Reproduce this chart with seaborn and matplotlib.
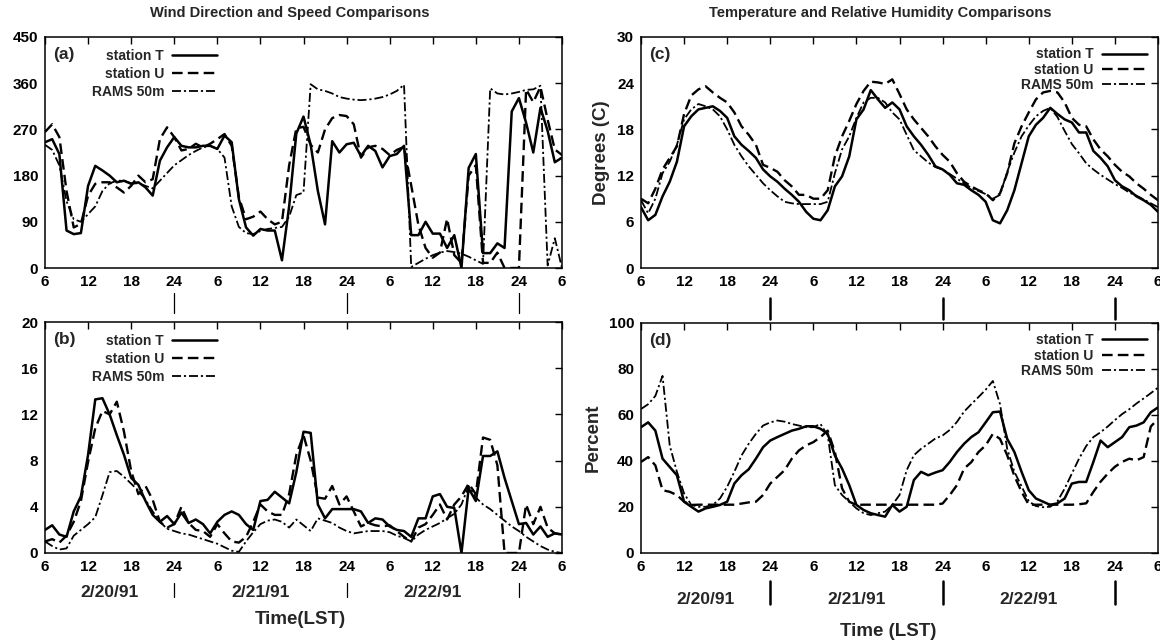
import matplotlib
matplotlib.use("Agg")
import matplotlib.pyplot as plt
import matplotlib.transforms as mtransforms
import seaborn as sns
import pandas as pd

# --- datos: hora local desde 2/20/91 00h (6 .. 78) ---
hours = list(range(6, 79))
tick_hours = [6, 12, 18, 24, 30, 36, 42, 48, 54, 60, 66, 72, 78]
tick_labels = ['6', '12', '18', '24', '6', '12', '18', '24', '6', '12', '18', '24', '6']
day_breaks = [24, 48, 72]
day_names = ['2/20/91', '2/21/91', '2/22/91']
day_centers = [15, 36, 60]
series_names = ['station T', 'station U', 'RAMS 50m']

# (a) wind direction (deg)
dir_T = [245, 251, 222, 73, 66, 68, 160, 199, 190, 180,
         167, 170, 164, 167, 157, 141, 209, 235, 255, 238,
         235, 235, 238, 238, 232, 258, 245, 134, 79, 63,
         76, 73, 73, 15, 120, 262, 295, 240, 150, 85,
         247, 225, 241, 244, 218, 238, 228, 196, 218, 222,
         238, 64, 64, 90, 67, 67, 39, 64, 0, 195,
         222, 29, 29, 48, 39, 305, 331, 283, 225, 312,
         267, 206, 215]
dir_U = [265, 280, 255, 150, 79, 86, 141, 164, 167, 167,
         157, 147, 160, 180, 167, 173, 251, 274, 255, 229,
         232, 242, 235, 242, 251, 261, 238, 138, 95, 100,
         110, 95, 85, 90, 200, 272, 275, 240, 225, 270,
         292, 298, 296, 280, 215, 235, 238, 232, 220, 230,
         236, 161, 84, 39, 20, 30, 96, 25, 10, 180,
         200, 10, 10, 30, 0, 0, 0, 348, 323, 353,
         289, 231, 220]
dir_R = [240, 230, 200, 130, 95, 90, 105, 120, 150, 165,
         170, 170, 165, 165, 160, 155, 170, 185, 200, 210,
         220, 228, 235, 238, 232, 215, 120, 80, 68, 66,
         72, 76, 78, 80, 100, 142, 147, 358, 348, 345,
         340, 333, 330, 328, 327, 328, 330, 333, 338, 345,
         357, 2, 10, 18, 25, 30, 33, 31, 28, 22,
         15, 8, 350, 340, 338, 340, 343, 347, 348, 355,
         5, 58, 0]

# (b) wind speed (m/s)
spd_T = [2.0, 2.4, 1.6, 1.4, 3.6, 4.9, 8.5, 13.3, 13.4, 12.0,
         10.2, 8.5, 6.5, 5.9, 4.5, 3.3, 2.7, 3.2, 2.5, 3.5,
         2.6, 2.9, 2.5, 1.7, 2.7, 3.3, 3.6, 3.3, 2.5, 2.0,
         4.5, 4.6, 5.3, 4.8, 4.3, 7.0, 10.5, 10.4, 4.2, 3.0,
         3.8, 3.8, 3.8, 3.8, 3.6, 2.6, 3.0, 2.9, 2.3, 2.0,
         1.9, 1.4, 3.0, 3.0, 4.9, 5.1, 4.0, 3.9, 0.0, 5.6,
         4.5, 8.4, 8.4, 8.8, 6.5, 4.5, 2.5, 2.6, 1.6, 2.3,
         1.4, 1.7, 1.6]
spd_U = [1.0, 1.2, 0.9, 1.5, 2.7, 4.5, 7.9, 10.8, 12.3, 12.0,
         13.1, 10.5, 7.1, 5.1, 5.8, 4.6, 2.7, 2.2, 2.5, 4.0,
         2.6, 2.0, 1.9, 1.4, 2.5, 1.7, 1.0, 0.9, 1.4, 2.7,
         4.2, 3.6, 3.3, 3.3, 5.1, 8.5, 10.2, 8.0, 4.8, 4.7,
         5.8, 4.2, 4.9, 3.6, 2.3, 2.6, 2.4, 2.3, 2.4, 1.9,
         1.4, 1.0, 2.2, 2.5, 3.3, 4.2, 2.9, 4.2, 4.9, 6.0,
         5.1, 10.0, 9.8, 7.6, 0.0, 0.0, 0.0, 4.2, 2.5, 4.0,
         2.2, 1.7, 1.6]
spd_R = [1.0, 0.6, 0.3, 0.4, 1.5, 2.0, 2.5, 3.1, 5.0, 7.0,
         7.1, 6.6, 6.0, 5.4, 4.6, 3.6, 2.7, 2.1, 1.9, 1.7,
         1.6, 1.4, 1.2, 1.0, 0.8, 0.5, 0.2, 0.1, 1.0, 1.8,
         2.5, 2.8, 2.9, 2.7, 2.2, 2.9, 2.4, 1.9, 3.0, 2.8,
         2.6, 2.2, 1.9, 1.7, 1.8, 1.9, 1.9, 1.9, 1.8, 1.5,
         1.3, 1.0, 1.6, 2.0, 2.3, 2.6, 3.0, 3.4, 4.2, 5.8,
         4.8, 4.2, 3.8, 3.3, 2.8, 2.3, 1.9, 1.4, 1.0, 0.6,
         0.3, 0.1, 0.0]

# (c) temperature (C)
tmp_T = [7.9, 6.2, 6.9, 9.3, 11.2, 13.8, 18.4, 19.7, 20.6, 20.8,
         21.0, 20.4, 19.5, 17.1, 16.0, 15.2, 14.3, 12.8, 11.9, 11.2,
         10.3, 9.5, 8.6, 7.3, 6.4, 6.2, 7.5, 10.6, 11.9, 14.5,
         19.3, 20.6, 23.1, 21.9, 20.8, 21.5, 20.6, 18.4, 17.1, 16.0,
         14.7, 13.2, 12.8, 12.1, 11.0, 10.8, 10.1, 9.5, 8.6, 6.2,
         5.8, 7.5, 10.1, 13.6, 17.1, 18.6, 19.5, 20.8, 20.0, 19.3,
         18.9, 17.6, 17.6, 15.2, 14.3, 13.2, 11.4, 10.6, 10.1, 9.3,
         8.8, 8.2, 7.3]
tmp_U = [9.0, 8.4, 10.3, 12.8, 14.3, 15.8, 20.0, 22.4, 23.2, 23.6,
         22.8, 22.1, 21.5, 20.2, 18.4, 17.3, 16.0, 13.4, 13.0, 12.5,
         11.4, 10.6, 9.5, 9.5, 9.0, 9.0, 10.1, 14.5, 17.1, 19.1,
         21.3, 23.0, 24.2, 24.1, 23.9, 24.5, 22.6, 20.6, 19.3, 18.2,
         17.1, 15.8, 14.7, 13.8, 12.3, 11.2, 10.6, 10.1, 9.7, 8.8,
         9.7, 12.3, 16.2, 18.4, 20.2, 21.9, 22.8, 23.0, 22.8, 21.5,
         19.5, 18.6, 18.4, 16.7, 15.4, 14.5, 13.4, 12.5, 11.9, 11.0,
         10.3, 9.5, 8.8]
tmp_R = [8.8, 7.1, 9.0, 12.3, 13.8, 16.0, 19.3, 20.6, 21.3, 21.0,
         20.6, 19.7, 18.0, 16.0, 14.5, 13.2, 12.1, 11.0, 10.1, 9.3,
         8.6, 8.4, 8.3, 8.3, 8.3, 8.3, 8.6, 12.3, 15.4, 17.1,
         19.5, 21.5, 22.1, 22.1, 21.5, 20.2, 19.3, 17.3, 15.3, 14.5,
         13.7, 13.1, 12.8, 12.2, 11.6, 11.0, 10.4, 10.0, 9.6, 9.0,
         9.5, 12.5, 15.0, 17.1, 18.5, 19.7, 20.4, 20.8, 19.6, 17.8,
         16.1, 14.9, 13.6, 12.8, 12.1, 11.5, 10.9, 10.4, 9.8, 9.4,
         8.9, 8.4, 7.9]

# (d) relative humidity (%)
rh_T = [54.7, 56.8, 53.2, 41.0, 37.4, 33.8, 22.3, 20.1, 18.0, 19.4,
        20.1, 20.9, 22.3, 30.2, 33.8, 36.4, 41.0, 46.0, 48.9, 50.4,
        51.8, 53.2, 54.0, 55.1, 55.1, 54.0, 51.8, 42.4, 36.7, 29.5,
        20.9, 18.7, 17.3, 16.5, 15.8, 20.9, 18.0, 20.1, 31.7, 35.3,
        33.8, 35.0, 36.0, 39.6, 43.9, 47.5, 50.4, 52.5, 56.8, 61.2,
        61.5, 49.6, 43.9, 35.3, 27.3, 23.7, 22.3, 20.9, 21.6, 23.7,
        30.2, 30.9, 30.9, 39.6, 48.9, 46.0, 48.2, 50.4, 54.7, 55.4,
        56.8, 61.2, 63.3]
rh_U = [39.6, 41.7, 38.1, 27.3, 26.6, 25.2, 22.3, 20.9, 21, 21,
        21, 21, 21, 21, 21.5, 22, 22.3, 25.2, 30.2, 33.1,
        36.0, 41.0, 44.6, 46.8, 48.2, 50.4, 53.2, 43.9, 28.1, 22.3,
        20.9, 21, 21, 21, 21, 21, 21, 21, 21, 21,
        21, 21, 21.5, 25.2, 29.5, 36.7, 39.5, 43.9, 46.8, 51.8,
        49.6, 42.5, 33.5, 26.6, 21.0, 21, 21, 21, 21, 21,
        21, 21.2, 21.6, 26.6, 31.0, 34.5, 37.5, 39.6, 41.0, 40.3,
        41.7, 55.0, 58.3]
rh_R = [62.6, 64.7, 68.3, 77.0, 46.8, 35.3, 25.9, 20.9, 20.1, 20.1,
        20.9, 23.7, 28.8, 35.3, 42.4, 47.5, 51.8, 55.4, 56.8, 57.6,
        57.1, 56.1, 55.4, 54.7, 54.7, 56.1, 51.1, 29.5, 25.2, 22.3,
        19.4, 17.3, 16.5, 17.3, 18.0, 20.9, 25.2, 36.0, 42.5, 45.3,
        47.5, 49.8, 51.1, 53.5, 57.0, 61.5, 64.7, 67.8, 71.0, 74.8,
        64.7, 45.3, 35.3, 29.0, 22.5, 20.4, 19.9, 20.1, 22.5, 28.0,
        34.5, 41.0, 46.5, 50.4, 52.5, 55.0, 57.8, 60.4, 62.5, 65.0,
        67.2, 69.5, 71.9]

# --- estilo ---
sns.set_theme(style="white")
plt.rcParams['font.family'] = ['Liberation Sans', 'DejaVu Sans']
plt.rcParams['font.weight'] = 'bold'
plt.rcParams['axes.labelweight'] = 'bold'

line_styles = {
    'station T': dict(ls='-', lw=1.8),
    'station U': dict(ls=(0, (4.5, 2.2)), lw=1.7),
    'RAMS 50m': dict(ls=(0, (5, 1.6, 1.2, 1.6)), lw=1.3),
}

W, H = 1160, 643
fig = plt.figure(figsize=(W / 100, H / 100), dpi=100)


def add_ax(left, right, top, bottom):
    return fig.add_axes([left / W, 1 - bottom / H, (right - left) / W, (bottom - top) / H])


def draw_panel(ax, values, ymax, ystep, tag, legend_right):
    df = pd.DataFrame({'hour': hours})
    for name, vals in zip(series_names, values):
        df[name] = vals
    for name in series_names:
        sns.lineplot(data=df, x='hour', y=name, ax=ax, color='black',
                     label=name, **line_styles[name])
    ax.set_xlim(6, 78)
    ax.set_ylim(0, ymax)
    ax.set_xticks(tick_hours)
    ax.set_xticklabels(tick_labels)
    ax.set_yticks(list(range(0, ymax + 1, ystep)))
    ax.set_xlabel('')
    ax.set_ylabel('')
    ax.tick_params(direction='in', top=True, right=True, length=5, width=1,
                   labelsize=11, colors='black', pad=5)
    for lab in ax.get_xticklabels() + ax.get_yticklabels():
        lab.set_fontweight('bold')
    for sp in ax.spines.values():
        sp.set_color('black')
        sp.set_linewidth(1.1)
    ax.text(0.016, 0.925, tag, transform=ax.transAxes, fontsize=12.5,
            fontweight='bold', va='center', ha='left')
    if legend_right:
        leg = ax.legend(loc='upper right', bbox_to_anchor=(0.978, 0.955),
                        frameon=False, markerfirst=False, fontsize=10,
                        handlelength=3.2, handletextpad=0.6, labelspacing=0.1,
                        borderaxespad=0, borderpad=0)
    else:
        leg = ax.legend(loc='upper left', bbox_to_anchor=(0.09, 0.95),
                        frameon=False, markerfirst=False, fontsize=10,
                        handlelength=3.2, handletextpad=0.6, labelspacing=0.3,
                        borderaxespad=0, borderpad=0)
    for t in leg.get_texts():
        t.set_fontweight('bold')


def day_marks(ax, y0, y1, lw):
    trans = mtransforms.blended_transform_factory(ax.transData, ax.transAxes)
    for h in day_breaks:
        ax.plot([h, h], [y0, y1], color='black', lw=lw, transform=trans, clip_on=False)


def day_labels(ax, y):
    trans = mtransforms.blended_transform_factory(ax.transData, ax.transAxes)
    for h, name in zip(day_centers, day_names):
        ax.text(h, y, name, transform=trans, ha='center', va='center',
                fontsize=12.5, fontweight='bold')


ax_a = add_ax(45, 562, 37, 268)
ax_b = add_ax(45, 562, 322, 553)
ax_c = add_ax(641, 1158, 37, 268)
ax_d = add_ax(641, 1158, 323, 553)

draw_panel(ax_a, [dir_T, dir_U, dir_R], 450, 90, '(a)', False)
draw_panel(ax_b, [spd_T, spd_U, spd_R], 20, 4, '(b)', False)
draw_panel(ax_c, [tmp_T, tmp_U, tmp_R], 30, 6, '(c)', True)
draw_panel(ax_d, [rh_T, rh_U, rh_R], 100, 20, '(d)', True)

# marcas de cambio de día
day_marks(ax_a, -0.11, -0.195, 0.9)
day_marks(ax_b, -0.13, -0.19, 0.9)
day_marks(ax_c, -0.13, -0.22, 1.8)
day_marks(ax_d, -0.12, -0.22, 1.8)
day_labels(ax_b, -0.17)
day_labels(ax_d, -0.2)

ax_c.set_ylabel('Degrees (C)', fontsize=13.5, fontweight='bold', labelpad=5)
ax_d.set_ylabel('Percent', fontsize=13.5, fontweight='bold', labelpad=5)

fig.text(290 / W, 1 - 13 / H, 'Wind Direction and Speed Comparisons',
         ha='center', va='center', fontsize=10.5, fontweight='bold')
fig.text(880 / W, 1 - 13 / H, 'Temperature and Relative Humidity Comparisons',
         ha='center', va='center', fontsize=10.5, fontweight='bold')
fig.text(300 / W, 1 - 620 / H, 'Time(LST)', ha='center', va='center',
         fontsize=13.5, fontweight='bold')
fig.text(888 / W, 1 - 631 / H, 'Time (LST)', ha='center', va='center',
         fontsize=13.5, fontweight='bold')

fig.savefig('out.png', dpi=100, facecolor='white')
